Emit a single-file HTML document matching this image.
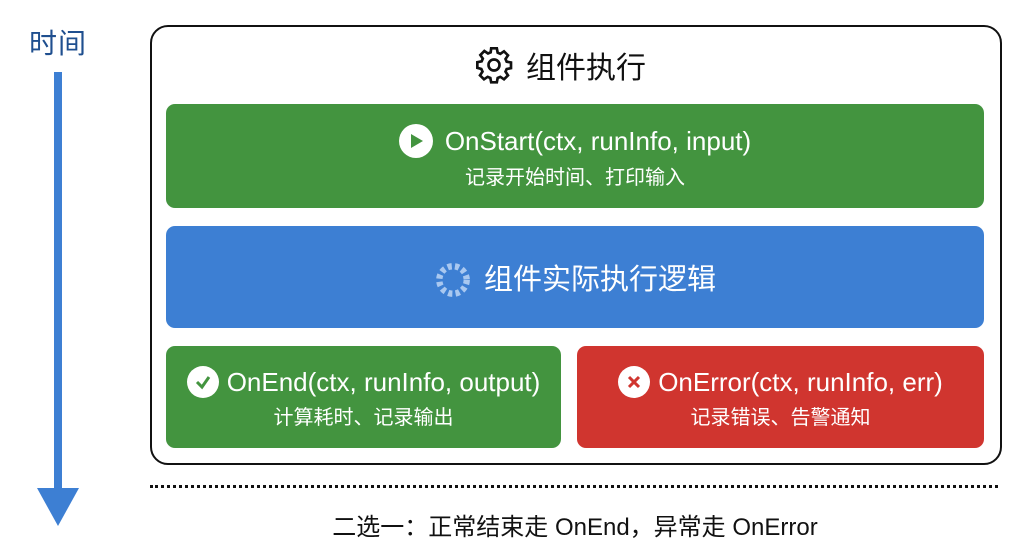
<!DOCTYPE html>
<html><head><meta charset="utf-8"><style>
body{margin:0;width:1024px;height:559px;background:#fff;font-family:"Liberation Sans","Noto Sans CJK SC",sans-serif;position:relative;overflow:hidden}
.a{position:absolute}
.box{position:absolute;border-radius:9px;color:#fff;text-align:center}
.t{font-size:26px;line-height:30px;display:flex;align-items:center;justify-content:center;gap:12px}
.s{font-size:20px;line-height:24px;margin-top:8px}
.ic{width:34px;height:34px;border-radius:50%;background:#fff;display:inline-flex;align-items:center;justify-content:center}
</style></head><body>
<div class="a" style="left:29px;top:22px;font-size:28px;color:#1f4f8f;letter-spacing:1px">时间</div>
<div class="a" style="left:54px;top:72px;width:8px;height:425px;background:#3d7fd3"></div>
<svg class="a" style="left:37px;top:488px" width="42" height="40"><polygon points="0,0 42,0 21,38" fill="#3d7fd3"/></svg>
<div class="a" style="left:150px;top:25px;width:848px;height:436px;border:2px solid #111;border-radius:18px"></div>
<div class="a" style="left:474px;top:43px;display:flex;align-items:center;gap:12px;font-size:30px;color:#111">
<svg width="40" height="40" viewBox="0 0 24 24" fill="none" stroke="#111" stroke-width="1.6"><path d="M10.3 2h3.4l.5 2.6 1.6.7 2.2-1.5 2.4 2.4-1.5 2.2.7 1.6 2.6.5v3.4l-2.6.5-.7 1.6 1.5 2.2-2.4 2.4-2.2-1.5-1.6.7-.5 2.6h-3.4l-.5-2.6-1.6-.7-2.2 1.5-2.4-2.4 1.5-2.2-.7-1.6L2 13.7v-3.4l2.6-.5.7-1.6-1.5-2.2 2.4-2.4 2.2 1.5 1.6-.7z"/><circle cx="12" cy="12" r="3.3"/></svg>组件执行</div>
<div class="box" style="left:166px;top:104px;width:818px;height:104px;background:#43943f">
<div class="t" style="margin-top:20px"><span class="ic"><svg width="16" height="16"><polygon points="3,1 15,8 3,15" fill="#43943f"/></svg></span>OnStart(ctx, runInfo, input)</div>
<div class="s">记录开始时间、打印输入</div></div>
<div class="box" style="left:166px;top:226px;width:818px;height:102px;background:#3d7fd3">
<div class="t" style="margin-top:35px;font-size:29px"><svg width="38" height="38" viewBox="0 0 36 36"><circle cx="18" cy="18" r="13" fill="none" stroke="#a9c8f0" stroke-width="6" stroke-dasharray="4 3"/></svg>组件实际执行逻辑</div></div>
<div class="box" style="left:166px;top:346px;width:395px;height:102px;background:#43943f">
<div class="t" style="margin-top:20px;gap:8px"><span class="ic" style="width:32px;height:32px"><svg width="18" height="18"><polyline points="3,9 8,14 15,4" fill="none" stroke="#43943f" stroke-width="3"/></svg></span>OnEnd(ctx, runInfo, output)</div>
<div class="s">计算耗时、记录输出</div></div>
<div class="box" style="left:577px;top:346px;width:407px;height:102px;background:#d0352f">
<div class="t" style="margin-top:20px;gap:8px"><span class="ic" style="width:32px;height:32px"><svg width="14" height="14"><path d="M2 2L12 12M12 2L2 12" stroke="#d0352f" stroke-width="3"/></svg></span>OnError(ctx, runInfo, err)</div>
<div class="s">记录错误、告警通知</div></div>
<div class="a" style="left:150px;top:485px;width:848px;border-top:3px dotted #111"></div>
<div class="a" style="left:0;width:1150px;top:507px;text-align:center;font-size:24px;color:#111">二选一：正常结束走 OnEnd，异常走 OnError</div>
</body></html>
